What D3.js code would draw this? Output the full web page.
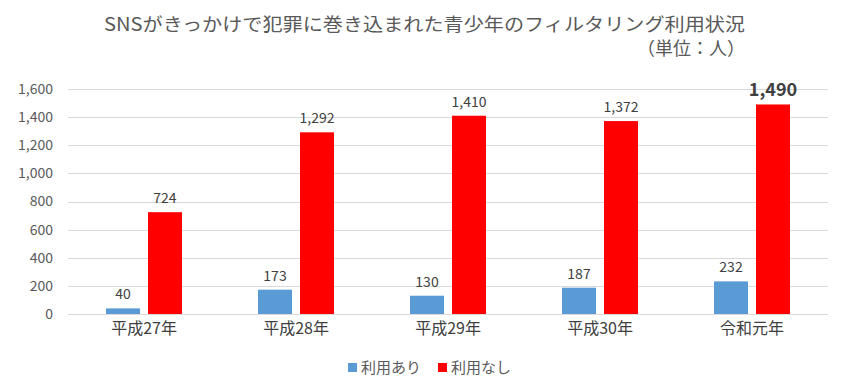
<!DOCTYPE html>
<html><head><meta charset="utf-8">
<script src="https://cdn.jsdelivr.net/npm/d3@7"></script>
<style>body{margin:0;background:#fff}svg{display:block}text{font-family:"Noto Sans CJK JP","Noto Sans",sans-serif}</style>
</head><body><svg id="c" width="848" height="391"></svg>
<script>
const categories = ["平成27年","平成28年","平成29年","平成30年","令和元年"];
const seriesNames = ["利用あり","利用なし"];
const usingValues = [40,173,130,187,232];
const notUsingValues = [724,1292,1410,1372,1490];
const yTicks = [0,200,400,600,800,1000,1200,1400,1600];
const colors = ["#5B9BD5","#FF0000"];

(function(){
const svg = d3.select("#c");
const pL = 68, pR = 828, pT = 89, pB = 314;
const x0 = d3.scaleBand().domain(categories).range([pL,pR]).paddingInner(0.5).paddingOuter(0.25);
const x1 = d3.scaleBand().domain(seriesNames).range([0,x0.bandwidth()]).paddingInner(0.19);
const y = d3.scaleLinear().domain([0,1600]).range([pB,pT]);

svg.append("g").selectAll("line").data(yTicks).join("line")
  .attr("x1",pL).attr("x2",pR).attr("y1",d=>Math.round(y(d))+0.5).attr("y2",d=>Math.round(y(d))+0.5)
  .attr("stroke","#d9d9d9").attr("stroke-width",1);

const yAxis = d3.axisLeft(y).tickValues(yTicks).tickFormat(d3.format(",")).tickSize(0).tickPadding(0);
const ga = svg.append("g").attr("transform",`translate(${pL-15},0)`).call(yAxis);
ga.select(".domain").remove();
ga.selectAll("text").attr("font-size",14).attr("fill","#595959").attr("font-family","'Noto Sans','Noto Sans CJK JP',sans-serif");

const xAxis = d3.axisBottom(x0).tickSize(0).tickPadding(0);
const gx = svg.append("g").attr("transform",`translate(0,${pB+9})`).call(xAxis);
gx.select(".domain").remove();
gx.selectAll("text").attr("font-size",16).attr("fill","#404040").attr("font-family","'Noto Sans CJK JP',sans-serif");

const data = categories.map((c,i)=>({cat:c, vals:[usingValues[i], notUsingValues[i]]}));
const groups = svg.append("g").selectAll("g").data(data).join("g")
  .attr("transform",d=>`translate(${x0(d.cat)},0)`);
groups.selectAll("rect").data(d=>d.vals.map((v,j)=>({s:seriesNames[j],v,j}))).join("rect")
  .attr("x",d=>x1(d.s)).attr("width",x1.bandwidth())
  .attr("y",d=>y(d.v)).attr("height",d=>y(0)-y(d.v))
  .attr("fill",d=>colors[d.j]);
groups.each(function(d,i){
  const g = d3.select(this);
  d.vals.forEach((v,j)=>{
    const big = (i===categories.length-1 && j===1);
    g.append("text").attr("x",x1(seriesNames[j])+x1.bandwidth()/2)
      .attr("y",y(v)-(big?8:9)).attr("text-anchor","middle")
      .attr("font-size",big?18:14).attr("font-weight",big?"bold":"normal")
      .attr("fill","#404040").attr("font-family","'Noto Sans',sans-serif")
      .text(d3.format(",")(v));
  });
});

svg.append("text").attr("x",104).attr("y",31).attr("font-size",18).attr("fill","#595959")
  .attr("textLength",641).attr("lengthAdjust","spacingAndGlyphs")
  .text("SNSがきっかけで犯罪に巻き込まれた青少年のフィルタリング利用状況");
svg.append("text").attr("x",745).attr("y",55).attr("font-size",18).attr("fill","#595959")
  .attr("text-anchor","end").text("（単位：人）");

const lg = svg.append("g").attr("transform","translate(0,368)");
const lx = [348, 438];
seriesNames.forEach((s,j)=>{
  lg.append("rect").attr("x",lx[j]).attr("y",-5).attr("width",9).attr("height",9).attr("fill",colors[j]);
  lg.append("text").attr("x",lx[j]+13).attr("y",5).attr("font-size",15).attr("fill","#595959").text(s);
});
})();
</script></body></html>
